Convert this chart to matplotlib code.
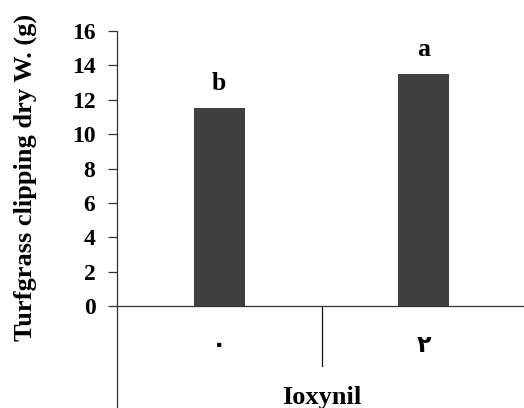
import matplotlib.pyplot as plt

categories = ["\u0660", "\u0662"]
values = [11.5, 13.5]
letters = ["b", "a"]
yticks = [0, 2, 4, 6, 8, 10, 12, 14, 16]

serif = ["Liberation Serif", "DejaVu Sans"]
plt.rcParams["font.family"] = serif
plt.rcParams["font.weight"] = "bold"

fig = plt.figure(figsize=(5.24, 4.08), dpi=100)
ax = fig.add_axes([0.2233, 0.0, 0.7767, 0.924])

x = list(range(len(categories)))
ax.bar(x, values, width=0.25, color="#404040", zorder=2)

## significance letters
for xi, v, l in zip(x, values, letters):
    ax.text(xi, v + 1.45, l, ha="center", va="center", fontsize=18.5, fontweight="bold")

ax.set_xlim(-0.5, 1.49)
ax.set_ylim(-5.93, 16)

for s in ["top", "right", "bottom"]:
    ax.spines[s].set_visible(False)
ax.spines["left"].set_color("#333333")
ax.spines["left"].set_linewidth(0.9)
ax.axhline(0, color="#333333", lw=0.9, zorder=3)
ax.plot([0.5, 0.5], [0, -3.49], color="#111111", lw=0.9, clip_on=False)

ax.set_xticks([])
ax.set_yticks(yticks)
ax.set_yticklabels([str(t) for t in yticks], fontsize=17, fontweight="bold")
ax.tick_params(axis="y", direction="out", length=6.5, width=0.9, pad=9, colors="#333333", labelcolor="black")

## category labels and group name under the axis
for xi, c in zip(x, categories):
    ax.text(xi, -2.27, c, ha="center", va="center", fontsize=17, fontweight="bold",
            family=["DejaVu Sans", "Liberation Serif"])
ax.text(0.5, -5.3, "Ioxynil", ha="center", va="center", fontsize=19, fontweight="bold")

fig.text(0.048, 0.565, "Turfgrass clipping dry W. (g)", rotation=90, ha="center", va="center",
         fontsize=19, fontweight="bold")

fig.savefig("out.png", dpi=100)
